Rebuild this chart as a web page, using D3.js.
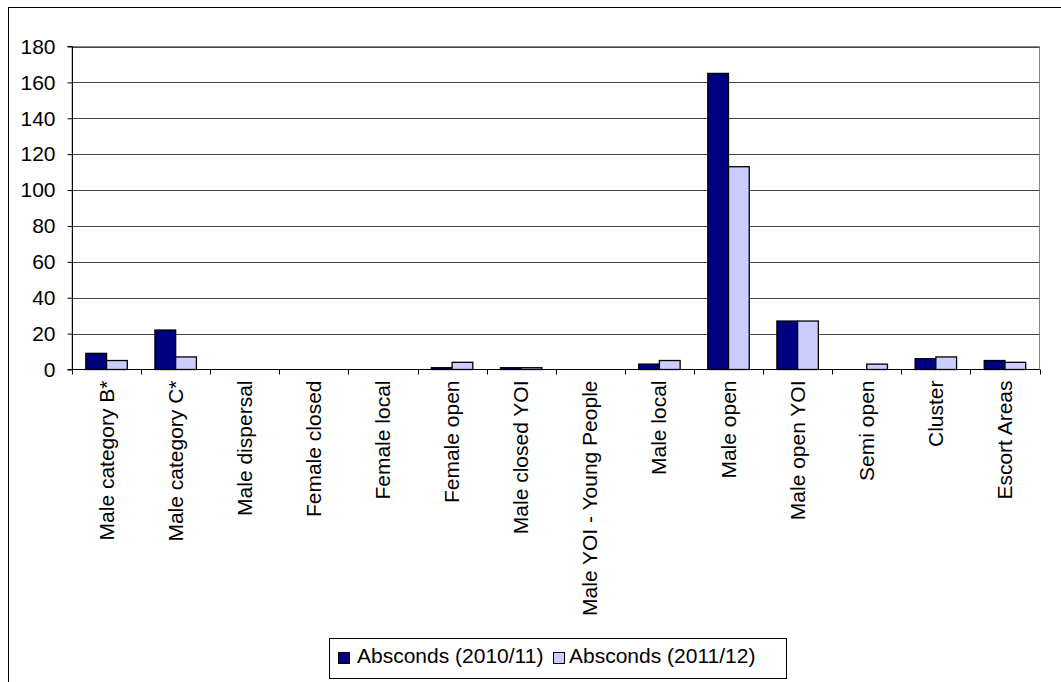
<!DOCTYPE html>
<html><head><meta charset="utf-8">
<script src="https://cdn.jsdelivr.net/npm/d3@7"></script>
<style>body{margin:0;background:#fff}svg{display:block}text{font-family:"Liberation Sans",Arial,sans-serif}</style>
</head><body><svg id="c" width="1061" height="682"></svg>
<script>
const categories = ["Male category B*","Male category C*","Male dispersal","Female closed","Female local","Female open","Male closed YOI","Male YOI - Young People","Male local","Male open","Male open YOI","Semi open","Cluster","Escort Areas"];
const seriesNames = ["Absconds (2010/11)","Absconds (2011/12)"];
const values2010 = [9,22,0,0,0,1,1,0,3,165,27,0,6,5];
const values2011 = [5,7,0,0,0,4,1,0,5,113,27,3,7,4];
const yTicks = [0,20,40,60,80,100,120,140,160,180];
const colors = ["#000080","#ccccff"];

const svg = d3.select("#c");
const L=72, R=1039.5, T=46.5, B=369.5;
const FS = 21;
svg.append("rect").attr("x",8.5).attr("y",7.5).attr("width",1100).attr("height",700).attr("fill","#fff").attr("stroke","#000");

const x = d3.scaleBand().domain(categories).range([L,R]).paddingInner(0).paddingOuter(0);
const y = d3.scaleLinear().domain([0,180]).range([B,T]);
const xs = d3.scaleBand().domain([0,1]).range([x.bandwidth()*0.2, x.bandwidth()*0.8]);

// plot border
svg.append("rect").attr("x",L).attr("y",T).attr("width",R-L).attr("height",B-T).attr("fill","none").attr("stroke","#888");
// gridlines
svg.append("g").selectAll("line").data(yTicks.slice(1)).join("line")
  .attr("x1",L).attr("x2",R).attr("y1",d=>Math.round(y(d))+0.5).attr("y2",d=>Math.round(y(d))+0.5)
  .attr("stroke","#444").attr("stroke-width",1);

// bars
const data = categories.map((c,i)=>({c, v:[values2010[i],values2011[i]]}));
const g = svg.append("g");
data.forEach(d=>{
  d.v.forEach((v,k)=>{
    const x0 = x(d.c)+xs(k);
    g.append("rect").attr("x",x0).attr("y",y(v)).attr("width",xs.bandwidth()).attr("height",B-y(v))
      .attr("fill",colors[k]).attr("stroke","#000").attr("stroke-width",1.3);
  });
});

// y axis
const ya = d3.axisLeft(y).tickValues(yTicks).tickSize(5).tickPadding(12);
const yg = svg.append("g").attr("transform",`translate(${L+0.5},0)`).call(ya);
yg.select(".domain").attr("stroke","#000").attr("d",`M-5,${B}H0V${T}H-5`);
yg.selectAll(".tick line").attr("stroke","#000");
yg.selectAll("text").attr("font-size",FS).attr("fill","#000").attr("font-family","Liberation Sans, Arial, sans-serif");

// x axis
svg.append("line").attr("x1",L).attr("x2",R).attr("y1",B).attr("y2",B).attr("stroke","#000");
const bounds = categories.map(c=>x(c)).concat([R]);
svg.append("g").selectAll("line").data(bounds).join("line")
  .attr("x1",d=>Math.round(d)+0.5).attr("x2",d=>Math.round(d)+0.5).attr("y1",B).attr("y2",B+5).attr("stroke","#000");
svg.append("g").selectAll("text").data(categories).join("text")
  .attr("transform",d=>`translate(${x(d)+x.bandwidth()/2+7},${B+11}) rotate(-90)`)
  .attr("text-anchor","end").attr("font-size",FS).attr("fill","#000").text(d=>d);

// legend
const lg = svg.append("g");
lg.append("rect").attr("x",329.5).attr("y",638.5).attr("width",457).attr("height",40).attr("fill","#fff").attr("stroke","#000");
const items = [{x:338,tx:357},{x:553,tx:569}];
seriesNames.forEach((n,k)=>{
  lg.append("rect").attr("x",items[k].x+0.5).attr("y",652.5).attr("width",11).attr("height",11).attr("fill",colors[k]).attr("stroke","#000");
  lg.append("text").attr("x",items[k].tx).attr("y",663).attr("font-size",FS).attr("fill","#000").text(n);
});
</script></body></html>
